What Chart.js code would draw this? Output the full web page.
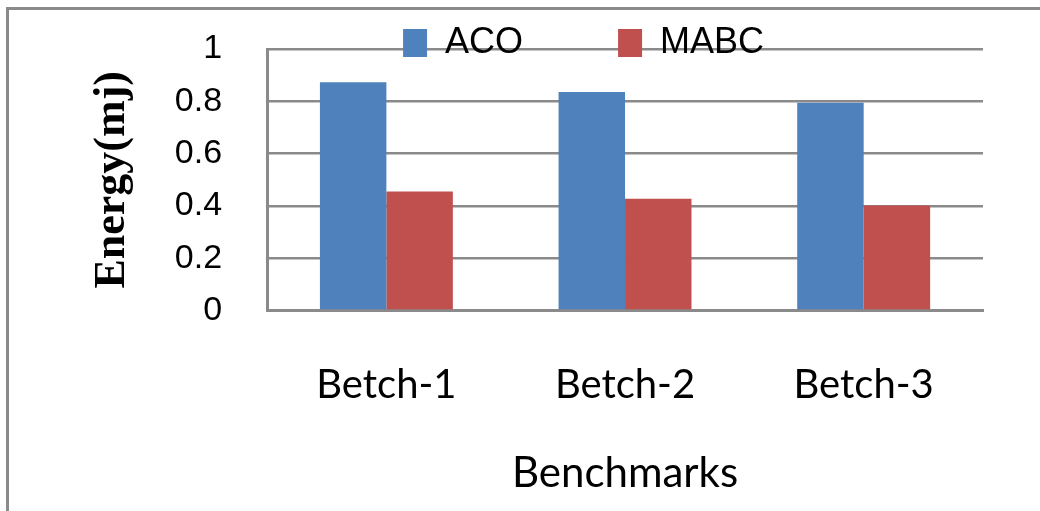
<!DOCTYPE html>
<html>
<head>
<meta charset="utf-8">
<script src="https://cdn.jsdelivr.net/npm/chart.js@4.4.0/dist/chart.umd.min.js"></script>
<style>
  html, body { margin: 0; padding: 0; background: #fff; }
  #wrap { position: relative; width: 1040px; height: 511px; }
  #frame { position: absolute; left: 6px; top: 7px; right: 0; bottom: 0;
           border-left: 3px solid #8a8a8a; border-top: 3px solid #8a8a8a; pointer-events: none; }
</style>
</head>
<body>
<div id="wrap">
  <canvas id="energyChart" width="1040" height="511"></canvas>
  <div id="frame"></div>
</div>
<script>
// Energy consumption per benchmark batch
const benchmarks = ['Betch-1', 'Betch-2', 'Betch-3'];
const acoValues = [0.873, 0.836, 0.795];
const mabcValues = [0.455, 0.428, 0.402];
const seriesNames = ['ACO', 'MABC'];

const gridColor = '#8a8a8a';

// moves the legend up over the top gridline, like the original
const legendShift = {
    id: 'legendShift',
    afterLayout(chart) {
        const lg = chart.legend;
        const area = chart.chartArea;
        const pad = lg.options.labels.padding;
        lg.left = area.left + 136 - pad;
        lg.top = area.top - 24 - pad;
    }
};

var ctx = document.getElementById('energyChart').getContext('2d');
let graph = new Chart(ctx, {
    type: 'bar',
    data: {
        labels: benchmarks,
        datasets: [
            {
                label: seriesNames[0],
                data: acoValues,
                backgroundColor: '#4f81bd',
                borderWidth: 0
            },
            {
                label: seriesNames[1],
                data: mabcValues,
                backgroundColor: '#c0504d',
                borderWidth: 0
            }
        ]
    },
    options: {
        responsive: false,
        animation: false,
        layout: {
            padding: { left: 86, right: 57, top: 49, bottom: 0 }
        },
        datasets: {
            bar: { categoryPercentage: 0.557, barPercentage: 1.0 }
        },
        scales: {
            y: {
                min: 0,
                max: 1,
                ticks: {
                    stepSize: 0.2,
                    autoSkip: false,
                    padding: 3,
                    color: '#000',
                    font: { family: 'Liberation Sans', size: 34 },
                    callback: (v) => String(Number(v.toFixed(1)))
                },
                grid: { color: gridColor, lineWidth: 2.5, drawTicks: true, tickLength: 42, tickColor: 'rgba(0,0,0,0)' },
                border: { color: gridColor, width: 3 },
                title: {
                    display: true,
                    text: 'Energy(mj)',
                    color: '#000',
                    font: { family: 'Liberation Serif', size: 44, weight: 'bold' },
                    padding: { top: 0, bottom: 33 }
                }
            },
            x: {
                ticks: {
                    padding: 50,
                    color: '#000',
                    font: { family: 'Lato', size: 40 }
                },
                grid: { display: false, drawTicks: false },
                border: { color: gridColor, width: 3 },
                title: {
                    display: true,
                    text: 'Benchmarks',
                    color: '#000',
                    font: { family: 'Lato', size: 42 },
                    padding: { top: -10, bottom: 12 }
                }
            }
        },
        plugins: {
            legend: {
                position: 'chartArea',
                align: 'start',
                labels: {
                    boxWidth: 24,
                    boxHeight: 28,
                    padding: 95,
                    color: '#000',
                    font: { family: 'Liberation Sans', size: 36 }
                }
            },
            tooltip: { enabled: false }
        }
    },
    plugins: [legendShift]
});
</script>
</body>
</html>
